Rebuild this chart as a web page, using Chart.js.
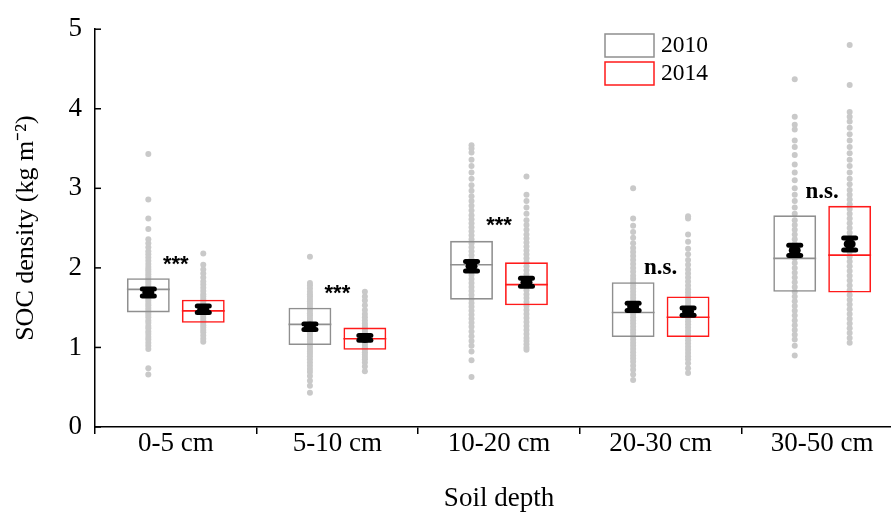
<!DOCTYPE html>
<html lang="en">
<head>
<meta charset="UTF-8">
<title>SOC density by soil depth</title>
<script src="https://cdn.jsdelivr.net/npm/chart.js"></script>
<style>
  html, body { margin: 0; padding: 0; background: #fff; overflow: hidden; }
  #wrap { width: 910px; height: 516px; }
</style>
</head>
<body>
<div id="wrap"><canvas id="socChart" width="910" height="516"></canvas></div>
<script>
// ---- data ----
const depths = ['0-5 cm', '5-10 cm', '10-20 cm', '20-30 cm', '30-50 cm'];
const years = ['2010', '2014'];

const q1_2010 = [1.44, 1.03, 1.60, 1.13, 1.70];
const q3_2010 = [1.87, 1.50, 2.34, 1.82, 2.66];
const med_2010 = [1.73, 1.29, 2.04, 1.44, 2.12];
const mean_2010 = [1.69, 1.26, 2.02, 1.51, 2.22];
const se_2010 = [0.045, 0.035, 0.06, 0.045, 0.065];

const q1_2014 = [1.31, 0.97, 1.53, 1.13, 1.69];
const q3_2014 = [1.60, 1.25, 2.07, 1.64, 2.78];
const med_2014 = [1.46, 1.11, 1.79, 1.38, 2.16];
const mean_2014 = [1.48, 1.12, 1.82, 1.45, 2.30];
const se_2014 = [0.04, 0.03, 0.05, 0.045, 0.075];

const sigText = ['***', '***', '***', 'n.s.', 'n.s.'];
const sigY = [2.04, 1.67, 2.53, 2.00, 2.95];

// individual samples (grey dots), one list per depth
const dots2010 = [
  [0.66, 0.74, 0.98, 1.02, 1.06, 1.10, 1.13, 1.17, 1.20, 1.24, 1.27, 1.31, 1.34, 1.38, 1.41, 1.44, 1.47, 1.50, 1.53, 1.56, 1.59, 1.62, 1.65, 1.68, 1.71, 1.74, 1.77, 1.80, 1.83, 1.86, 1.89, 1.92, 1.95, 1.98, 2.01, 2.05, 2.09, 2.13, 2.17, 2.21, 2.26, 2.31, 2.36, 2.49, 2.62, 2.86, 3.43],
  [0.43, 0.52, 0.58, 0.64, 0.69, 0.73, 0.77, 0.81, 0.85, 0.89, 0.92, 0.95, 0.98, 1.01, 1.04, 1.07, 1.10, 1.13, 1.16, 1.19, 1.22, 1.25, 1.28, 1.31, 1.34, 1.37, 1.40, 1.43, 1.46, 1.49, 1.52, 1.55, 1.58, 1.61, 1.64, 1.67, 1.70, 1.74, 1.78, 1.81, 2.14],
  [0.63, 0.84, 0.95, 1.02, 1.08, 1.14, 1.20, 1.26, 1.31, 1.36, 1.41, 1.46, 1.51, 1.56, 1.61, 1.66, 1.71, 1.76, 1.81, 1.86, 1.91, 1.96, 2.01, 2.06, 2.11, 2.16, 2.21, 2.26, 2.31, 2.36, 2.41, 2.46, 2.51, 2.56, 2.61, 2.66, 2.72, 2.78, 2.84, 2.90, 2.97, 3.04, 3.12, 3.20, 3.28, 3.36, 3.45, 3.50, 3.54],
  [0.59, 0.66, 0.72, 0.77, 0.82, 0.86, 0.90, 0.94, 0.98, 1.02, 1.06, 1.10, 1.14, 1.18, 1.22, 1.26, 1.30, 1.34, 1.38, 1.42, 1.46, 1.50, 1.54, 1.58, 1.62, 1.66, 1.70, 1.74, 1.78, 1.82, 1.86, 1.90, 1.95, 2.00, 2.05, 2.10, 2.15, 2.20, 2.25, 2.31, 2.38, 2.45, 2.53, 2.62, 3.00],
  [0.90, 1.02, 1.10, 1.16, 1.22, 1.28, 1.34, 1.40, 1.46, 1.52, 1.58, 1.64, 1.70, 1.76, 1.82, 1.88, 1.94, 2.00, 2.06, 2.12, 2.18, 2.24, 2.30, 2.36, 2.42, 2.48, 2.54, 2.60, 2.68, 2.76, 2.84, 2.92, 3.00, 3.10, 3.20, 3.30, 3.42, 3.52, 3.60, 3.74, 3.80, 3.90, 4.37]
];
const dots2014 = [
  [1.07, 1.11, 1.15, 1.19, 1.22, 1.25, 1.28, 1.31, 1.34, 1.37, 1.40, 1.43, 1.46, 1.49, 1.52, 1.55, 1.58, 1.61, 1.64, 1.67, 1.71, 1.75, 1.79, 1.83, 1.88, 1.93, 1.98, 2.04, 2.18],
  [0.70, 0.76, 0.81, 0.85, 0.88, 0.91, 0.94, 0.97, 1.00, 1.03, 1.06, 1.09, 1.12, 1.15, 1.18, 1.21, 1.24, 1.27, 1.30, 1.34, 1.38, 1.42, 1.47, 1.53, 1.59, 1.64, 1.70],
  [0.97, 1.00, 1.04, 1.08, 1.12, 1.17, 1.22, 1.27, 1.32, 1.37, 1.42, 1.47, 1.52, 1.57, 1.62, 1.67, 1.72, 1.77, 1.82, 1.87, 1.92, 1.97, 2.02, 2.07, 2.12, 2.17, 2.22, 2.27, 2.32, 2.37, 2.42, 2.48, 2.54, 2.60, 2.68, 2.76, 2.84, 2.92, 3.15],
  [0.68, 0.74, 0.80, 0.85, 0.89, 0.93, 0.97, 1.01, 1.05, 1.09, 1.13, 1.17, 1.21, 1.25, 1.29, 1.33, 1.37, 1.41, 1.45, 1.49, 1.53, 1.57, 1.61, 1.65, 1.69, 1.73, 1.78, 1.83, 1.88, 1.93, 1.98, 2.04, 2.10, 2.17, 2.24, 2.33, 2.42, 2.62, 2.65],
  [1.06, 1.12, 1.18, 1.24, 1.30, 1.36, 1.42, 1.48, 1.54, 1.60, 1.66, 1.72, 1.78, 1.84, 1.90, 1.96, 2.02, 2.08, 2.14, 2.20, 2.26, 2.32, 2.38, 2.44, 2.50, 2.56, 2.62, 2.68, 2.74, 2.80, 2.86, 2.92, 2.98, 3.05, 3.12, 3.20, 3.28, 3.36, 3.44, 3.52, 3.60, 3.68, 3.76, 3.84, 3.90, 3.96, 4.30, 4.80]
];

// ---- styling ----
const GREY = '#8f8f8f';
const RED = '#ff1a1a';
const DOT = '#c9c9c9';
const SERIF = "'Liberation Serif', 'Times New Roman', serif";
const DOT_OFF = 0.17; // dot column offset, in category units

// category index + offset; used with parsing:false so the category axis keeps fractions
function dotPoints(lists, off) {
  const pts = [];
  lists.forEach((vals, i) => vals.forEach(v => pts.push({ x: i + off, y: v })));
  return pts;
}

const boxStats = [
  { q1: q1_2010, q3: q3_2010, med: med_2010, mean: mean_2010, se: se_2010, color: GREY },
  { q1: q1_2014, q3: q3_2014, med: med_2014, mean: mean_2014, se: se_2014, color: RED }
];

const boxPlugin = {
  id: 'boxExtras',
  afterDatasetsDraw(chart) {
    const ctx = chart.ctx;
    const y = chart.scales.y;
    ctx.save();
    // medians
    boxStats.forEach((s, di) => {
      const meta = chart.getDatasetMeta(di);
      meta.data.forEach((el, i) => {
        const yp = y.getPixelForValue(s.med[i]);
        ctx.strokeStyle = s.color;
        ctx.lineWidth = 1.6;
        ctx.beginPath();
        ctx.moveTo(el.x - el.width / 2, yp);
        ctx.lineTo(el.x + el.width / 2, yp);
        ctx.stroke();
      });
    });
    // mean +/- se markers
    boxStats.forEach((s, di) => {
      const meta = chart.getDatasetMeta(di);
      meta.data.forEach((el, i) => {
        const ym = y.getPixelForValue(s.mean[i]);
        const yt = y.getPixelForValue(s.mean[i] + s.se[i]);
        const yb = y.getPixelForValue(s.mean[i] - s.se[i]);
        ctx.fillStyle = '#000';
        ctx.fillRect(el.x - 3, yt, 6, yb - yt);
        [yt, yb].forEach(yy => {
          ctx.beginPath();
          ctx.roundRect(el.x - 8.5, yy - 2.5, 17, 5, 2.5);
          ctx.fill();
        });
        ctx.beginPath();
        ctx.ellipse(el.x, ym, 6, 5, 0, 0, Math.PI * 2);
        ctx.fill();
      });
    });
    // significance labels
    const x = chart.scales.x;
    ctx.fillStyle = '#000';
    ctx.textAlign = 'center';
    ctx.textBaseline = 'middle';
    sigText.forEach((t, i) => {
      ctx.font = t === '***' ? "bold 22px 'Liberation Sans', Arial, sans-serif" : 'bold 23px ' + SERIF;
      ctx.fillText(t, x.getPixelForValue(i), y.getPixelForValue(sigY[i]));
    });
    ctx.restore();
  },
  afterDraw(chart) {
    const ctx = chart.ctx;
    const y = chart.scales.y;
    const a = chart.chartArea;
    ctx.save();
    // inward y ticks
    ctx.strokeStyle = '#000';
    ctx.lineWidth = 1.5;
    y.ticks.forEach(t => {
      const yp = y.getPixelForValue(t.value);
      ctx.beginPath();
      ctx.moveTo(a.left, yp);
      ctx.lineTo(a.left + 6, yp);
      ctx.stroke();
    });
    // legend
    ctx.font = '23.5px ' + SERIF;
    ctx.textAlign = 'left';
    ctx.textBaseline = 'middle';
    years.forEach((yr, k) => {
      const top = 34 + k * 28;
      ctx.strokeStyle = boxStats[k].color;
      ctx.lineWidth = 1.5;
      ctx.strokeRect(605, top, 49, 23);
      ctx.fillStyle = '#000';
      ctx.fillText(yr, 661, top + 12);
    });
    ctx.restore();
  }
};

const ctx = document.getElementById('socChart').getContext('2d');
new Chart(ctx, {
  type: 'bar',
  data: {
    labels: depths,
    datasets: [
      {
        label: years[0],
        data: q1_2010.map((v, i) => [v, q3_2010[i]]),
        backgroundColor: 'rgba(0,0,0,0)',
        borderColor: GREY,
        borderWidth: 1.6,
        borderSkipped: false,
        categoryPercentage: 0.68,
        barPercentage: 0.78,
        order: 1
      },
      {
        label: years[1],
        data: q1_2014.map((v, i) => [v, q3_2014[i]]),
        backgroundColor: 'rgba(0,0,0,0)',
        borderColor: RED,
        borderWidth: 1.6,
        borderSkipped: false,
        categoryPercentage: 0.68,
        barPercentage: 0.78,
        order: 1
      },
      {
        type: 'scatter',
        label: 'dots 2010',
        parsing: false,
        data: dotPoints(dots2010, -DOT_OFF),
        backgroundColor: DOT,
        borderWidth: 0,
        pointRadius: 3,
        order: 2
      },
      {
        type: 'scatter',
        label: 'dots 2014',
        parsing: false,
        data: dotPoints(dots2014, DOT_OFF),
        backgroundColor: DOT,
        borderWidth: 0,
        pointRadius: 3,
        order: 2
      }
    ]
  },
  options: {
    responsive: false,
    animation: false,
    layout: { padding: { top: 24, right: 7, left: 0, bottom: 0 } },
    plugins: { legend: { display: false }, tooltip: { enabled: false } },
    scales: {
      x: {
        type: 'category',
        grid: { offset: true, drawOnChartArea: false, tickLength: 7, color: '#000', lineWidth: 1.5 },
        border: { color: '#000', width: 1.5 },
        ticks: { color: '#000', font: { family: SERIF, size: 27 }, padding: -6 },
        title: { display: true, text: 'Soil depth', color: '#000', font: { family: SERIF, size: 27 }, padding: { top: 0, bottom: 1 } },
        afterFit(s) { s.height = 89; }
      },
      y: {
        min: 0, max: 5,
        ticks: { stepSize: 1, color: '#000', font: { family: SERIF, size: 27 }, padding: 13 },
        grid: { drawOnChartArea: false, drawTicks: false },
        border: { color: '#000', width: 1.5 },
        title: { display: true, text: 'SOC density (kg m\u207B\u00B2)', color: '#000', font: { family: SERIF, size: 26 }, padding: { top: 11, bottom: 0 } },
        afterFit(s) { s.width = 95; }
      }
    }
  },
  plugins: [boxPlugin]
});
</script>
</body>
</html>
